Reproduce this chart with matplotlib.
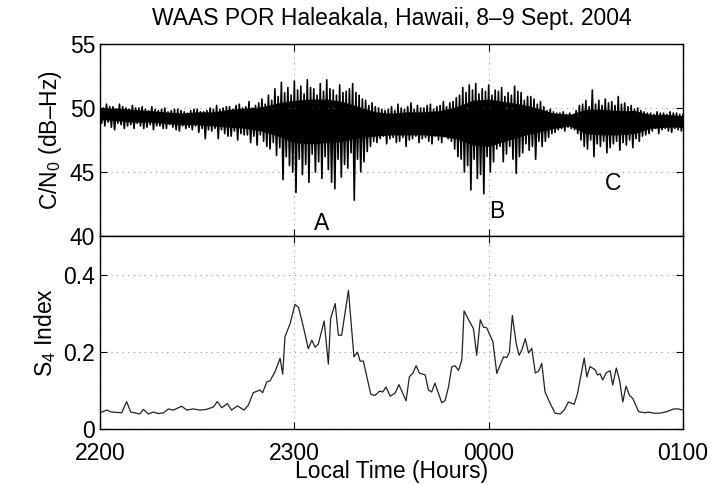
import numpy as np
import matplotlib
matplotlib.use('Agg')
import matplotlib.pyplot as plt

plt.rcParams['font.family'] = ['Liberation Sans', 'DejaVu Sans']
plt.rcParams['mathtext.fontset'] = 'custom'
plt.rcParams['mathtext.rm'] = 'Liberation Sans'
plt.rcParams['mathtext.it'] = 'Liberation Sans:italic'

# C/N0 spike extents, one value per minute from 2200 local time
cn0_upper = [
    50.2, 50.0, 50.3, 50.1, 50.1, 49.9, 50.3, 50.1, 50.0, 49.9,
    50.2, 50.0, 50.0, 50.1, 49.9, 49.8, 50.1, 49.9, 49.8, 49.9,
    50.0, 49.7, 49.8, 49.9, 49.9, 49.8, 49.7, 49.6, 49.8, 49.9,
    49.9, 49.7, 49.7, 49.8, 50.0, 49.9, 50.2, 49.9, 50.0, 50.1,
    50.1, 49.9, 50.2, 50.3, 50.0, 50.1, 50.5, 50.0, 50.2, 50.4,
    50.7, 50.3, 51.0, 50.6, 51.5, 50.9, 52.0, 51.2, 51.6, 51.0,
    52.1, 51.4, 51.7, 51.1, 52.2, 51.6, 51.5, 51.0, 51.9, 51.3,
    52.2, 51.5, 51.4, 51.0, 51.8, 51.2, 51.3, 51.5, 51.9, 51.2,
    51.0, 50.7, 50.6, 50.2, 50.4, 50.1, 50.0, 49.9, 49.8, 49.9,
    50.1, 49.8, 50.3, 50.0, 49.9, 50.1, 50.4, 49.9, 50.2, 50.0,
    50.0, 50.2, 50.3, 49.9, 50.1, 50.2, 50.5, 50.1, 50.4, 50.5,
    50.8, 51.0, 51.6, 51.2, 51.8, 51.4, 51.9, 51.1, 51.5, 51.3,
    51.8, 51.0, 51.4, 51.3, 51.6, 50.9, 51.2, 51.0, 51.7, 51.3,
    51.2, 50.6, 50.9, 50.9, 50.7, 50.3, 50.5, 50.1, 49.8, 49.9,
    49.7, 49.6, 49.6, 49.7, 49.5, 49.6, 49.3, 49.8, 50.2, 50.3,
    50.6, 50.1, 51.4, 50.3, 50.6, 50.2, 50.7, 50.4, 50.5, 50.2,
    50.9, 50.3, 50.4, 50.1, 50.2, 49.9, 50.0, 49.8, 49.7, 49.6,
    49.6, 49.5, 49.7, 49.6, 49.6, 49.5, 49.7, 49.6, 49.6, 49.5,
    49.5,
]
cn0_lower = [
    48.8, 48.6, 48.9, 48.5, 48.3, 48.8, 48.7, 48.4, 48.6, 48.7,
    48.4, 48.8, 48.6, 48.4, 48.5, 48.7, 48.3, 48.6, 48.6, 48.4,
    48.4, 48.7, 48.5, 48.3, 48.2, 48.6, 48.4, 48.5, 48.3, 48.6,
    48.1, 48.4, 47.6, 48.3, 48.2, 48.4, 47.6, 48.3, 48.0, 47.8,
    47.8, 48.2, 47.5, 48.0, 47.9, 47.9, 47.3, 47.8, 47.1, 47.9,
    47.4, 47.0, 46.8, 47.3, 46.3, 46.9, 44.4, 46.2, 45.5, 45.0,
    43.4, 46.0, 44.8, 45.6, 44.2, 46.4, 45.0, 45.8, 44.5, 46.2,
    45.2, 44.2, 43.7, 46.0, 44.6, 45.6, 45.3, 46.5, 42.8, 46.0,
    45.0, 45.8, 46.6, 47.0, 47.4, 47.3, 47.6, 47.8, 47.2, 47.6,
    47.7, 47.3, 47.4, 47.7, 47.0, 47.5, 47.6, 47.8, 47.3, 47.6,
    47.7, 47.4, 47.2, 47.8, 47.5, 47.3, 47.8, 47.6, 47.4, 46.8,
    46.2, 46.0, 45.0, 45.5, 43.6, 46.0, 44.5, 44.8, 43.3, 46.2,
    45.0, 45.8, 46.8, 47.0, 45.8, 46.4, 47.0, 46.0, 44.9, 46.2,
    46.5, 47.2, 46.7, 47.0, 46.0, 47.4, 47.0, 47.4, 47.7, 48.0,
    48.1, 48.3, 48.4, 48.2, 48.5, 48.4, 48.3, 48.0, 47.5, 47.0,
    46.8, 47.5, 46.2, 47.2, 47.0, 47.4, 46.5, 46.9, 47.2, 47.4,
    46.7, 47.3, 47.1, 47.5, 46.9, 47.6, 47.4, 47.8, 47.9, 48.0,
    48.2, 48.4, 48.0, 48.3, 48.4, 48.2, 48.1, 48.4, 48.3, 48.2,
    48.2,
]

# dense core of the C/N0 trace, one value every 5 minutes
core_minutes = np.arange(0, 185, 5)
core_upper = [
    50.0, 50.0, 49.9, 49.8, 49.7, 49.6, 49.7, 49.7, 49.9, 50.0,
    50.1, 50.4, 50.6, 50.7, 50.7, 50.5, 50.1, 49.7, 49.6, 49.7,
    49.7, 49.8, 50.1, 50.6, 50.7, 50.5, 50.3, 50.0, 49.6, 49.5,
    49.9, 49.9, 49.8, 49.8, 49.5, 49.5, 49.4,
]
core_lower = [
    49.1, 49.0, 48.9, 48.9, 48.8, 48.7, 48.7, 48.6, 48.5, 48.4,
    48.2, 47.8, 47.3, 47.2, 47.3, 47.4, 47.7, 47.8, 47.9, 47.9,
    47.9, 47.8, 47.6, 47.1, 47.0, 47.4, 47.8, 48.1, 48.4, 48.6,
    48.0, 47.9, 47.9, 48.0, 48.4, 48.5, 48.5,
]

# S4 index samples (minutes after 2200)
s4_minutes = [
    0, 2.1, 3.6, 6.7, 8.2, 9.5, 12.3, 13.4, 14.9, 16.5,
    18.0, 19.6, 21.1, 22.6, 25.2, 26.8, 28.8, 30.9, 32.9, 35.0,
    36.2, 37.6, 39.3, 40.6, 42.4, 44.5, 45.8, 47.3, 49.4, 50.2,
    51.5, 52.5, 54.0, 55.6, 56.4, 57.1, 58.7, 60.2, 61.3, 62.8,
    64.3, 65.4, 66.4, 67.4, 69.2, 70.5, 71.2, 72.6, 73.6, 74.6,
    76.7, 78.4, 79.5, 80.3, 81.3, 82.4, 83.6, 84.9, 86.3, 87.3,
    88.3, 89.6, 91.1, 92.3, 94.5, 95.5, 96.6, 97.6, 98.6, 100.4,
    101.4, 102.4, 103.4, 105.5, 106.5, 107.6, 108.6, 109.6, 110.7, 111.7,
    112.4, 113.8, 115.3, 116.3, 117.4, 118.4, 119.4, 121.3, 122.5, 123.5,
    124.6, 125.6, 126.4, 127.3, 128.5, 129.4, 130.2, 131.3, 132.3, 133.3,
    134.4, 135.4, 136.4, 137.4, 139.0, 140.5, 142.1, 143.3, 144.6, 146.4,
    147.4, 149.5, 150.3, 151.3, 152.9, 153.6, 154.4, 155.2, 156.3, 157.5,
    158.3, 159.4, 160.4, 161.4, 162.4, 163.5, 164.5, 166.3, 168.3, 169.3,
    170.9, 172.9, 175.0, 177.1, 178.6, 180.0,
]
s4_values = [
    0.042, 0.049, 0.044, 0.042, 0.071, 0.044, 0.039, 0.051, 0.039, 0.044,
    0.040, 0.042, 0.052, 0.049, 0.059, 0.049, 0.052, 0.049, 0.051, 0.057,
    0.071, 0.055, 0.066, 0.049, 0.060, 0.049, 0.062, 0.094, 0.101, 0.094,
    0.122, 0.125, 0.148, 0.183, 0.142, 0.239, 0.273, 0.323, 0.315, 0.264,
    0.208, 0.230, 0.212, 0.220, 0.280, 0.168, 0.286, 0.325, 0.243, 0.243,
    0.359, 0.187, 0.199, 0.176, 0.176, 0.135, 0.090, 0.087, 0.098, 0.096,
    0.109, 0.085, 0.093, 0.115, 0.073, 0.135, 0.145, 0.164, 0.145, 0.140,
    0.101, 0.096, 0.119, 0.068, 0.073, 0.109, 0.161, 0.164, 0.152, 0.178,
    0.306, 0.283, 0.260, 0.191, 0.283, 0.264, 0.262, 0.226, 0.144, 0.165,
    0.187, 0.185, 0.199, 0.294, 0.221, 0.191, 0.204, 0.234, 0.197, 0.209,
    0.145, 0.150, 0.170, 0.096, 0.066, 0.041, 0.039, 0.049, 0.070, 0.064,
    0.091, 0.184, 0.135, 0.162, 0.153, 0.140, 0.143, 0.127, 0.146, 0.151,
    0.114, 0.158, 0.127, 0.070, 0.111, 0.087, 0.079, 0.045, 0.042, 0.044,
    0.041, 0.041, 0.045, 0.052, 0.052, 0.049,
]

x_ticks = [22, 23, 24, 25]
x_ticklabels = ['2200', '2300', '0000', '0100']
marks = ['A', 'B', 'C']
mark_hours = [23.14, 24.04, 24.64]
mark_levels = [41.0, 41.9, 44.1]

FS = 16.5

cn0_hours = 22 + np.arange(len(cn0_upper)) / 60.0
core_hours = 22 + core_minutes / 60.0
s4_hours = 22 + np.array(s4_minutes) / 60.0

# noisy trace: alternate between the spike tops and bottoms
zig_t = np.ravel(np.column_stack([cn0_hours, cn0_hours + 0.5 / 60.0]))[:-1]
zig_v = np.ravel(np.column_stack([cn0_upper, cn0_lower]))[:-1]

fig = plt.figure(figsize=(7.17, 4.84), dpi=100)
ax1 = fig.add_axes([0.1395, 0.5124, 0.8131, 0.3967])
ax2 = fig.add_axes([0.1395, 0.1136, 0.8131, 0.3988])

grid_kw = dict(color='#999999', linestyle=(0, (1, 4)), linewidth=0.8)

# top panel: C/N0
ax1.fill_between(core_hours, core_lower, core_upper, color='black', linewidth=0)
ax1.plot(zig_t, zig_v, color='black', linewidth=1.2)
ax1.set_xlim(22, 25)
ax1.set_ylim(40, 55)
ax1.set_yticks([40, 45, 50, 55])
ax1.set_xticks(x_ticks)
ax1.set_xticklabels([])
ax1.grid(True, **grid_kw)
ax1.set_ylabel(r'C/N$_\mathrm{0}$ (dB–Hz)', fontsize=FS)
ax1.set_title('WAAS POR Haleakala, Hawaii, 8–9 Sept. 2004', fontsize=FS, pad=14)
for lab, h, lv in zip(marks, mark_hours, mark_levels):
    ax1.text(h, lv, lab, fontsize=FS, ha='center', va='center')

# bottom panel: S4
ax2.plot(s4_hours, s4_values, color='#222222', linewidth=0.9)
ax2.set_xlim(22, 25)
ax2.set_ylim(0, 0.5)
ax2.set_yticks([0, 0.2, 0.4])
ax2.set_yticklabels(['0', '0.2', '0.4'])
ax2.set_xticks(x_ticks)
ax2.set_xticklabels(x_ticklabels)
ax2.grid(True, **grid_kw)
ax2.set_ylabel(r'S$_\mathrm{4}$ Index', fontsize=FS)
ax2.set_xlabel('Local Time (Hours)', fontsize=FS, labelpad=-3)

for ax in (ax1, ax2):
    ax.tick_params(direction='in', top=True, right=True, labelsize=FS, length=5)
    ax.tick_params(axis='x', pad=9)
    for s in ax.spines.values():
        s.set_linewidth(1.0)

fig.align_ylabels([ax1, ax2])
plt.savefig('out.png', dpi=100)
